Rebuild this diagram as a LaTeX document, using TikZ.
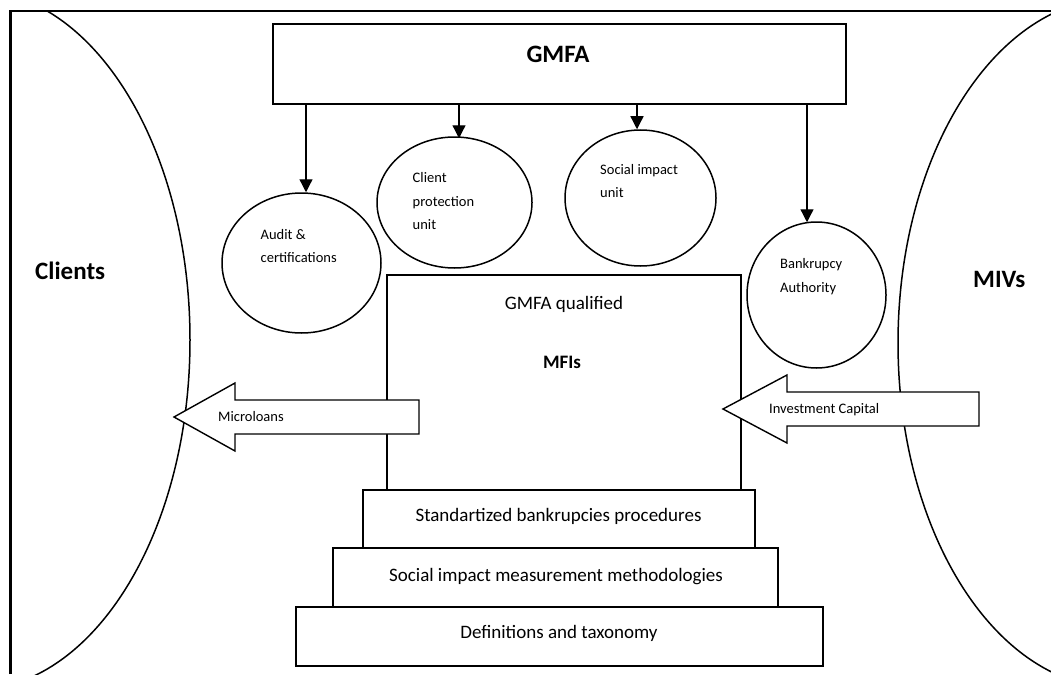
\documentclass[tikz,border=0pt]{standalone}
\usepackage{fontspec}
\setmainfont{Carlito}
\usetikzlibrary{shapes.geometric,arrows.meta,calc}
\begin{document}
\begin{tikzpicture}[x=1pt,y=-1pt,
  box/.style={draw,line width=1.6pt,fill=white,inner sep=0pt,minimum width=#1},
  unit/.style={draw,ellipse,line width=1.5pt,inner sep=0pt},
  conn/.style={line width=1.3pt,-{Triangle[length=13pt,width=13pt]}},
  blk/.style={draw,fill=white,line width=1.4pt,line join=miter},
  big/.style={font=\fontsize{25}{30}\selectfont\bfseries,inner sep=0pt,anchor=base west},
  mid/.style={font=\fontsize{19}{23}\selectfont,inner sep=0pt,anchor=base},
  small/.style={font=\fontsize{14.5}{17}\selectfont,inner sep=0pt,anchor=base west}]
\useasboundingbox (0,0) rectangle (1051,674);
% frame
\draw[line width=2.6pt] (10.5,674) -- (10.5,11) -- (1051,11);
% big side ellipses
\begin{scope}
\clip (11.8,12.3) rectangle (1051,674);
\draw[line width=1.5pt] (-27,340) ellipse [x radius=217, y radius=350];
\draw[line width=1.5pt] (1118,343) ellipse [x radius=220, y radius=345];
\end{scope}
\node[big] (clients) at (35,279) {Clients};
\node[big] (mivs) at (973,287) {MIVs};
% GMFA box
\node[box=573pt,minimum height=80pt] (gmfa) at (559.5,64) {};
\node[big,anchor=base] (gmfat) at (558,63) {GMFA};
% units
\node[unit,minimum width=159pt,minimum height=140pt] (audit) at (301.5,263) {};
\node[unit,minimum width=155pt,minimum height=131pt] (client) at (454.5,202.5) {};
\node[unit,minimum width=151pt,minimum height=136pt] (social) at (640.5,198) {};
\node[unit,minimum width=139pt,minimum height=146pt] (bank) at (816.5,295) {};
\node[small] (audit1) at (260.5,239.5) {Audit \&};
\node[small] (audit2) at (260.5,262) {certifications};
\node[small] (client1) at (412.5,182.5) {Client};
\node[small] (client2) at (412.5,206) {protection};
\node[small] (client3) at (412.5,229) {unit};
\node[small] (social1) at (600,174) {Social impact};
\node[small] (social2) at (600,197) {unit};
\node[small] (bank1) at (780,268) {Bankrupcy};
\node[small] (bank2) at (780,292) {Authority};
% connectors
\draw[conn] ($(gmfa.south -| audit.north)+(4.5,0)$) -- ($(audit.north)+(4.5,0)$);
\draw[conn] ($(gmfa.south -| client.north)+(4.5,0)$) -- ($(client.north)+(4.5,2)$);
\draw[conn] ($(gmfa.south -| social.north)+(-3.5,0)$) -- ($(social.north)+(-3.5,0)$);
\draw[conn] ($(gmfa.south -| bank.north)+(-9.5,0)$) -- ($(bank.north)+(-9.5,1)$);
% MFI box
\node[draw,line width=1.6pt,inner sep=0pt,minimum width=354pt,minimum height=215pt] (mfi) at (564,382.5) {};
\node[mid] (mfi1) at (564,309) {GMFA qualified};
\node[mid,font=\fontsize{19}{23}\selectfont\bfseries] (mfi2) at (562,368) {MFIs};
% stacked boxes
\node[box=392pt,minimum height=58pt] (std) at (559,519) {};
\node[box=445pt,minimum height=59pt] (soc) at (555.5,577.5) {};
\node[box=527pt,minimum height=59pt] (def) at (559.5,636.5) {};
\node[mid] (stdt) at (558.5,521) {Standartized bankrupcies procedures};
\node[mid] (soct) at (556,581) {Social impact measurement methodologies};
\node[mid] (deft) at (559,638.5) {Definitions and taxonomy};
% block arrows
\draw[blk] (419,400) -- (235,400) -- (235,383) -- (174,417) -- (235,451) -- (235,434) -- (419,434) -- cycle;
\node[small] (micro) at (218,421.5) {Microloans};
\draw[blk] (979,392) -- (787,392) -- (787,375) -- (723,409) -- (787,443) -- (787,426) -- (979,426) -- cycle;
\node[small] (inv) at (769,413.5) {Investment Capital};
\end{tikzpicture}
\end{document}
